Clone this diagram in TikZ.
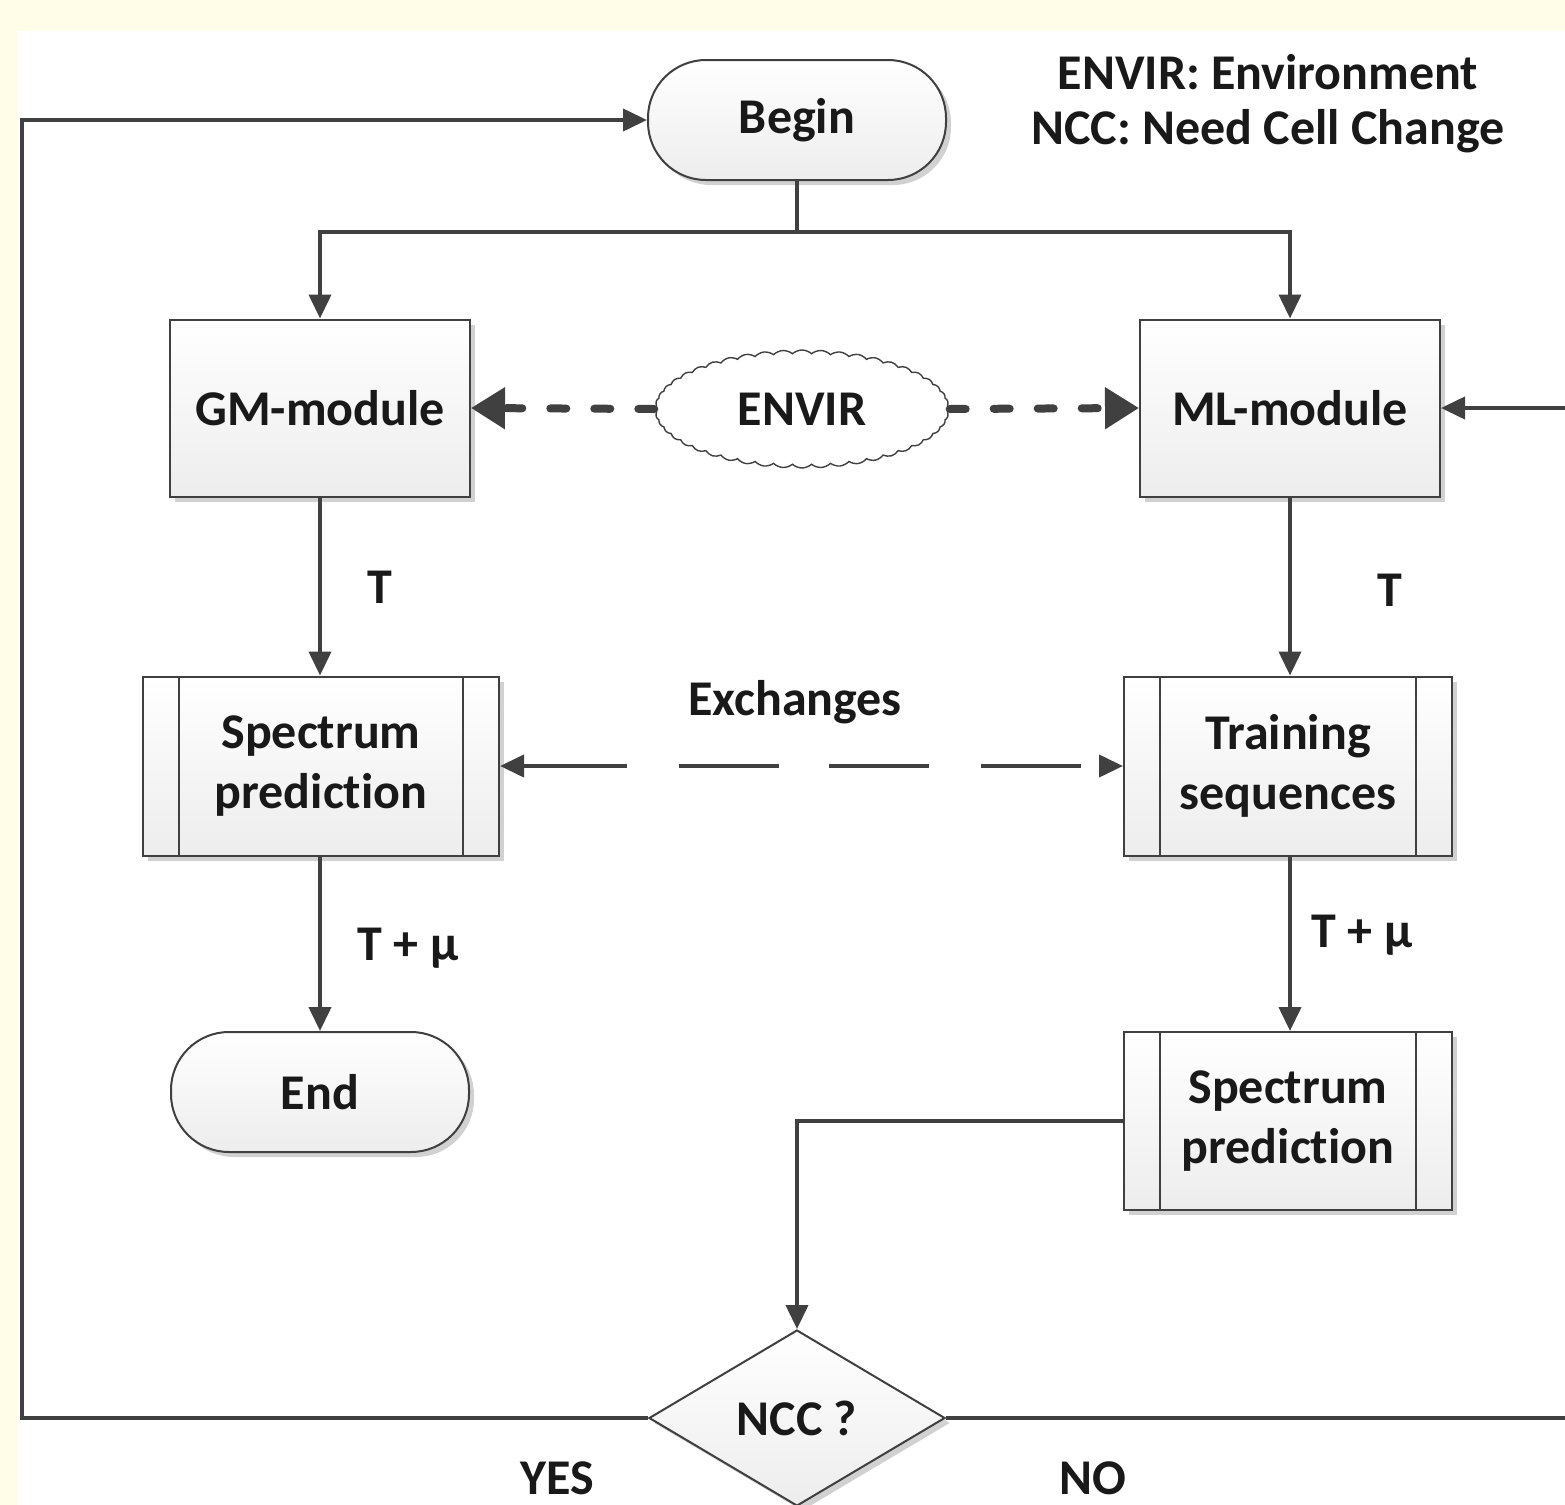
\documentclass[tikz,border=0pt]{standalone}
\usepackage{fontspec}
\setmainfont{Carlito}[Ligatures=NoCommon]
\usetikzlibrary{arrows.meta,shapes.geometric,shapes.symbols,shadows}
\definecolor{bgyellow}{HTML}{FFFDE8}
\definecolor{linecol}{HTML}{404040}
\definecolor{boxbot}{HTML}{EDEDED}
\tikzset{
  every node/.style={font=\fontsize{25pt}{30pt}\selectfont\bfseries, text=black!90},
  conn/.style={draw=linecol, line width=2pt},
  arr/.style={conn, -{Triangle[length=12pt,width=11pt]}},
  shade box/.style={draw=linecol, line width=1pt, top color=white, bottom color=boxbot,
     drop shadow={shadow xshift=2.5pt, shadow yshift=-2.5pt, opacity=0.18, fill=black}},
  modbox/.style={shade box, rectangle, minimum width=150pt, minimum height=88.5pt, inner sep=0pt},
  subbox/.style={shade box, rectangle, inner sep=0pt, align=center,
     path picture={
       \draw[linecol, line width=1pt] ([xshift=18pt]path picture bounding box.north west) -- ([xshift=18pt]path picture bounding box.south west);
       \draw[linecol, line width=1pt] ([xshift=-18pt]path picture bounding box.north east) -- ([xshift=-18pt]path picture bounding box.south east);
     }},
  termbox/.style={shade box, rectangle, rounded corners=29pt, minimum width=149pt, minimum height=60pt, inner sep=0pt},
  decbox/.style={shade box, diamond, minimum width=148pt, minimum height=88pt, inner sep=0pt},
  cloudbox/.style={cloud, cloud puffs=48, cloud puff arc=85, draw=linecol, line width=0.7pt, fill=white, minimum width=147pt, minimum height=59pt, aspect=2.5, inner sep=0pt},
  dotarr/.style={draw=linecol, line width=4pt, dash pattern=on 8pt off 14pt, line cap=round, -{Triangle[length=17pt,width=20pt]}},
  lbl/.style={inner sep=0pt}
}
\begin{document}
\begin{tikzpicture}[x=0.5pt,y=-0.5pt]
\useasboundingbox (0,0) rectangle (1565,1505);
\fill[bgyellow] (0,0) rectangle (1565,1505);
\fill[white] (18,31) rectangle (1565,1505);
\clip (0,0) rectangle (1565,1505);

% legend
\node[lbl] (leg1) at (1268,72) {ENVIR: Environment};
\node[lbl] (leg2) at (1268,131) {NCC: Need Cell Change};

% nodes
\node[termbox] (begin) at (797,120) {Begin};
\node[modbox] (gm) at (320,408) {GM-module};
\node[modbox] (ml) at (1290,408) {ML-module};
\node[cloudbox] (envir) at (802,409) {ENVIR};
\node[subbox, minimum width=178pt, minimum height=89.5pt] (specl) at (321,766) {Spectrum\\prediction};
\node[subbox, minimum width=164pt, minimum height=89.5pt] (train) at (1288,766) {Training\\sequences};
\node[termbox] (end) at (320,1092) {End};
\node[subbox, minimum width=164pt, minimum height=89pt] (specr) at (1288,1121) {Spectrum\\prediction};
\node[decbox] (ncc) at (797,1418) {NCC ?};

% labels
\node[lbl] (t1) at (380,587) {T};
\node[lbl] (t2) at (1390,590) {T};
\node[lbl] (tmu1) at (408,948) {T + μ};
\node[lbl] (tmu2) at (1362,935) {T + μ};
\node[lbl] (exch) at (795,702) {Exchanges};
\node[lbl] (yes) at (557,1478) {YES};
\node[lbl] (no) at (1093,1478) {NO};

% coordinates
\coordinate (split) at (797,232);
\coordinate (lb) at (22,1418);
\coordinate (lt) at (22,120);
\coordinate (rb) at (1572,1418);
\coordinate (rt) at (1572,408);

% connectors
\draw[conn] (begin.south) -- (split);
\draw[arr] (split) -| (gm.north);
\draw[arr] (split) -| (ml.north);
\draw[dotarr] (envir.west) -- (gm.east);
\draw[dotarr] (envir.east) -- (ml.east -| ml.west);
\draw[arr] (gm.south) -- (gm.south |- specl.north);
\draw[arr] (ml.south) -- (ml.south |- train.north);
\draw[conn, {Triangle[length=12pt,width=11pt]}-{Triangle[length=12pt,width=11pt]},
      dash pattern=on 52pt off 26pt on 50pt off 25pt on 50pt off 26pt on 50pt off 30pt]
      (specl.east) -- (train.west);
\draw[arr] (specl.south -| end.north) -- (end.north);
\draw[arr] (train.south -| ml.south) -- (ml.south |- specr.north);
\draw[arr] (specr.west) -| (ncc.north);
\draw[arr] (ncc.west) -- (lb) -- (lt) -- (begin.west);
\draw[arr] (ncc.east) -- (rb) -- (rt) -- (ml.east);
\end{tikzpicture}
\end{document}
